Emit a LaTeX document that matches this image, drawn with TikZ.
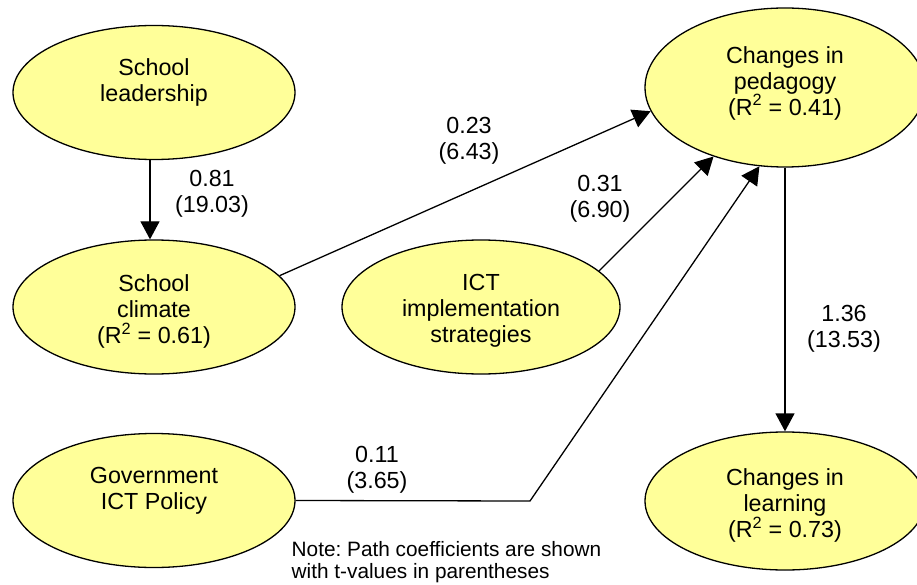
\documentclass[tikz,border=0pt]{standalone}
\usepackage{fontspec}
\setmainfont{Liberation Sans}
\usetikzlibrary{shapes.geometric,arrows.meta}
\definecolor{bubblefill}{HTML}{FFFF99}
\frenchspacing
\begin{document}
\begin{tikzpicture}[x=1pt,y=-1pt,
  bubble/.style={ellipse,draw=black,line width=1.3pt,fill=bubblefill,minimum width=282pt,minimum height=134pt,inner sep=0pt},
  txt/.style={align=center,font=\fontsize{23.3}{26}\selectfont,inner sep=0pt},
  coef/.style={align=center,font=\fontsize{23.3}{26}\selectfont,inner sep=0pt},
  notetxt/.style={align=left,font=\fontsize{20.8}{22}\selectfont,inner sep=0pt,anchor=north west},
  conn/.style={line width=1.3pt},
  arr/.style={conn,-{Triangle[length=18pt,width=19pt]}}
]
\useasboundingbox (0,0) rectangle (917,585);

% ellipses
\node[bubble] (lead) at (154,92.5) {};
\node[bubble] (clim) at (154,307) {};
\node[bubble,minimum width=278pt] (ict) at (481,307) {};
\node[bubble] (gov) at (154,500.5) {};
\node[bubble,minimum width=280pt,minimum height=159pt] (ped) at (785,87.5) {};
\node[bubble,minimum width=280pt,minimum height=138pt] (learn) at (785,501) {};

% ellipse texts
\node[txt] (leadT) at (154,82) {School\\leadership};
\node[txt] (climT) at (154,311) {School\\climate\\(R\textsuperscript{2} = 0.61)};
\node[txt] (ictT) at (481,311) {ICT\\implementation\\strategies};
\node[txt] (govT) at (154,490.5) {Government\\ICT Policy};
\node[txt] (pedT) at (785,83) {Changes in\\pedagogy\\(R\textsuperscript{2} = 0.41)};
\node[txt] (learnT) at (785,505.5) {Changes in\\learning\\(R\textsuperscript{2} = 0.73)};

% connectors
\draw[arr] ([xshift=-4pt]lead.south) -- ([xshift=-4pt]clim.north);
\draw[arr] (clim.14.5) -- (ped.190.2);
\draw[arr] (ict.17.3) -- (ped.224.6);
\coordinate (bend) at (530,501);
\draw[arr] (gov.east) -- (bend) -- (ped.252);
\draw[arr] (ped.south) -- (learn.north);

% coefficients
\node[coef] (c1) at (212,193.5) {0.81\\(19.03)};
\node[coef] (c2) at (469,140.5) {0.23\\(6.43)};
\node[coef] (c3) at (600,198.3) {0.31\\(6.90)};
\node[coef] (c4) at (844,329) {1.36\\(13.53)};
\node[coef] (c5) at (377,469.5) {0.11\\(3.65)};

% note
\node[notetxt] (note) at (291.5,541.5) {Note: Path coefficients are shown\\with t-values in parentheses};
\end{tikzpicture}
\end{document}
